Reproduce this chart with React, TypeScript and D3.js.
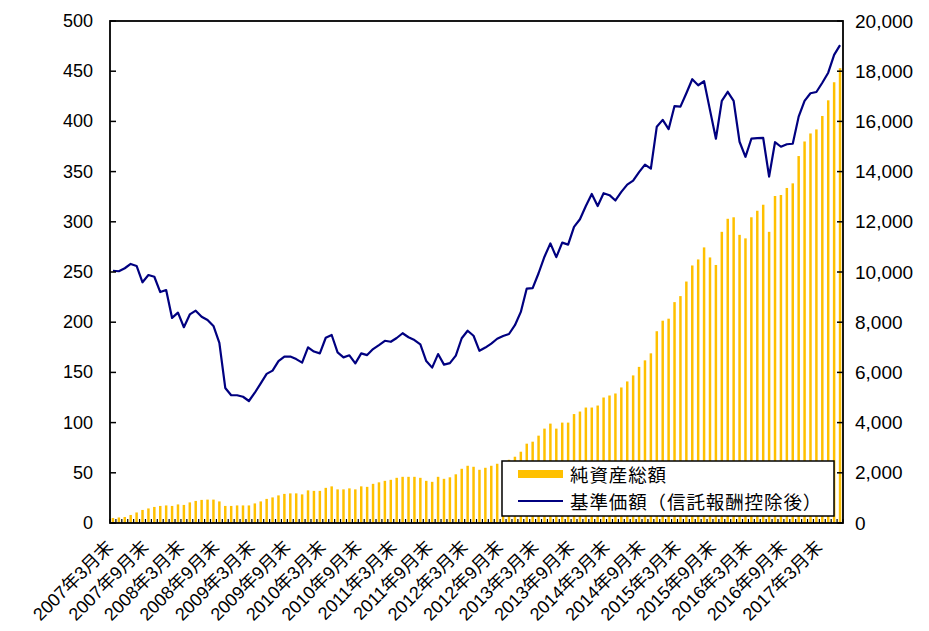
import * as React from 'react';
import * as d3 from 'd3';

// monthly categories, 2007/3 .. 2017/6
const months: string[] = d3.range(124).map(i => {
  const y = 2007 + Math.floor((i + 2) / 12);
  const m = ((i + 2) % 12) + 1;
  return `${y}-${m}`;
});

// 純資産総額 (left axis)
const netAssets: number[] = [
  5, 5.5, 6, 8, 10.5, 13, 14.5, 16, 17, 17.5, 17, 18.5, 18, 20.5, 22, 23, 23.3, 23.3, 21.5, 17, 17, 17.5,
  17.5, 17.5, 19.5, 21.5, 24, 25.5, 27.5, 29, 29.5, 29.5, 28.5, 32.5, 32, 32, 35, 36.5, 33.5, 33.5, 34.5, 33.5,
  36.5, 36, 39, 40.5, 42, 43, 45, 46, 46, 46, 45, 42, 41, 46, 44, 45.5, 48.5, 54, 57, 56, 53,
  55, 57, 59, 61, 63, 66, 71, 79, 81, 87, 94, 99, 94, 100, 100, 108.5, 111, 115, 115, 117, 125,
  127, 129, 135, 141, 147, 155.5, 162, 169, 191, 201.5, 203.5, 220, 226, 240.5, 256.5, 262.5, 274.5, 264.5, 257, 290,
  303, 304.5, 287, 283.5, 304.5, 311, 317, 290, 325.7, 326.7, 333.7, 338.3, 365.5, 380, 388, 392, 405.4, 421, 439, 453,
];

// 基準価額 (right axis)
const navPrice: number[] = [
  10050, 10030, 10150, 10320, 10240, 9590, 9880, 9810, 9200, 9280, 8170, 8380, 7800, 8310, 8460, 8220, 8090, 7850, 7180, 5380, 5090, 5090,
  5030, 4860, 5190, 5560, 5940, 6070, 6450, 6630, 6630, 6530, 6390, 7000, 6830, 6760, 7380, 7490, 6800, 6600, 6680, 6360,
  6760, 6690, 6930, 7090, 7260, 7220, 7370, 7560, 7400, 7290, 7120, 6450, 6190, 6730, 6310, 6370, 6670, 7360, 7660, 7460, 6860,
  6990, 7150, 7340, 7450, 7530, 7880, 8410, 9340, 9360, 9950, 10610, 11140, 10590, 11170, 11090, 11800, 12100, 12630, 13110, 12630, 13140,
  13060, 12850, 13190, 13480, 13640, 13980, 14280, 14120, 15790, 16060, 15690, 16610, 16590, 17120, 17680, 17440, 17600, 16450, 15310, 16820,
  17180, 16820, 15190, 14590, 15310, 15330, 15340, 13800, 15170, 14990, 15090, 15110, 16190, 16820, 17120, 17170, 17540, 17940, 18650, 19040,
];

const xLabels: string[] = [
  '2007年3月末', '2007年9月末', '2008年3月末', '2008年9月末', '2009年3月末', '2009年9月末',
  '2010年3月末', '2010年9月末', '2011年3月末', '2011年9月末', '2012年3月末', '2012年9月末',
  '2013年3月末', '2013年9月末', '2014年3月末', '2014年9月末', '2015年3月末', '2015年9月末',
  '2016年3月末', '2016年9月末', '2017年3月末',
];

const leftTicks = [0, 50, 100, 150, 200, 250, 300, 350, 400, 450, 500];
const rightTicks = [0, 2000, 4000, 6000, 8000, 10000, 12000, 14000, 16000, 18000, 20000];

const legendItems = ['純資産総額', '基準価額（信託報酬控除後）'];

const W = 929;
const H = 631;
const plot = { left: 110, right: 843, top: 21, bottom: 523 };
const font = '"Liberation Sans", Arial, "Noto Sans CJK JP", sans-serif';
const cjkFont = '"Noto Sans CJK JP", sans-serif';
const barColor = '#FFC000';
const lineColor = '#000080';

export default function App() {
  const x = d3.scaleBand<string>().domain(months).range([plot.left, plot.right]);
  const bw = x.bandwidth();
  const yL = d3.scaleLinear().domain([0, 500]).range([plot.bottom, plot.top]);
  const yR = d3.scaleLinear().domain([0, 20000]).range([plot.bottom, plot.top]);
  const cx = (i: number) => (x(months[i]) as number) + bw / 2;

  const linePath = d3.line<number>()
    .x((_, i) => cx(i))
    .y(d => yR(d))(navPrice) || '';

  const fmt = d3.format(',');
  const barW = bw * 0.42;

  return (
    <svg width={W} height={H} style={{ position: 'absolute', left: 0, top: 0, background: '#fff' }} fontFamily={font}>
      {/* bars */}
      {netAssets.map((v, i) => (
        <rect key={i} x={cx(i) - barW / 2} y={yL(v)} width={barW} height={plot.bottom - yL(v)} fill={barColor} />
      ))}

      {/* line */}
      <path d={linePath} fill="none" stroke={lineColor} strokeWidth={2.2} strokeLinejoin="round" />

      {/* month ticks on bottom */}
      {d3.range(months.length + 1).map(i => {
        const tx = plot.left + i * bw;
        return <line key={i} x1={tx} x2={tx} y1={plot.bottom} y2={plot.bottom - 4} stroke="#000" strokeWidth={1.2} />;
      })}

      {/* left ticks */}
      {leftTicks.map(t => (
        <g key={t}>
          <line x1={plot.left} x2={plot.left + 6} y1={yL(t)} y2={yL(t)} stroke="#000" strokeWidth={1.5} />
          <text x={93} y={yL(t)} textAnchor="end" dominantBaseline="central" fontSize={18}>{t}</text>
        </g>
      ))}

      {/* right ticks */}
      {rightTicks.map(t => (
        <g key={t}>
          <line x1={plot.right - 6} x2={plot.right} y1={yR(t)} y2={yR(t)} stroke="#000" strokeWidth={1.5} />
          <text x={855} y={yR(t)} textAnchor="start" dominantBaseline="central" fontSize={19}>{fmt(t)}</text>
        </g>
      ))}

      {/* frame */}
      <rect x={plot.left} y={plot.top} width={plot.right - plot.left} height={plot.bottom - plot.top} fill="none" stroke="#000" strokeWidth={1.8} />

      {/* x labels */}
      {xLabels.map((lab, k) => {
        const lx = cx(k * 6) - 3;
        const ly = plot.bottom + 21;
        return (
          <text key={lab} x={lx} y={ly} textAnchor="end" dominantBaseline="central" fontSize={18}
            transform={`rotate(-45, ${lx}, ${ly})`}>{lab}</text>
        );
      })}

      {/* legend */}
      <g>
        <rect x={502} y={461} width={332} height={55} fill="#fff" stroke="#000" strokeWidth={1.5} />
        <rect x={518} y={470} width={45} height={8} fill={barColor} />
        <text x={570} y={474} dominantBaseline="central" fontSize={18.5} letterSpacing={0.9} fontFamily={cjkFont}>{legendItems[0]}</text>
        <line x1={518} x2={563} y1={501} y2={501} stroke={lineColor} strokeWidth={2} />
        <text x={570} y={501} dominantBaseline="central" fontSize={18.5} letterSpacing={0.9} fontFamily={cjkFont}>{legendItems[1]}</text>
      </g>
    </svg>
  );
}
